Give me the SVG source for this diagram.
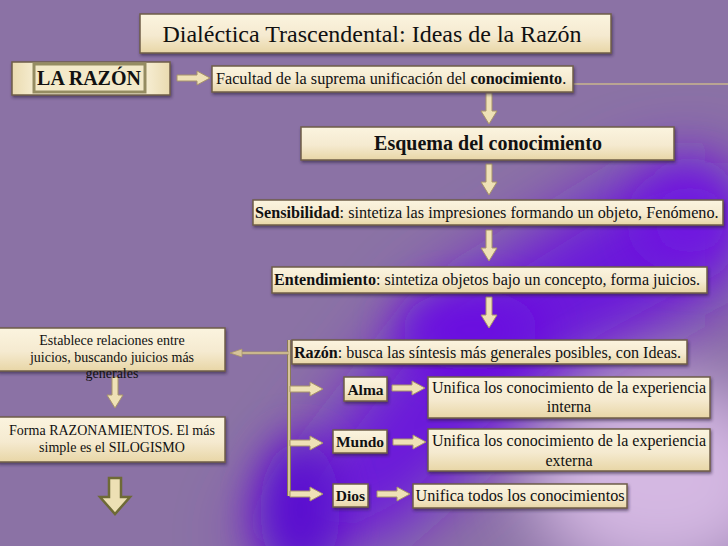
<svg xmlns="http://www.w3.org/2000/svg" width="728" height="546" viewBox="0 0 728 546">
<defs>
<linearGradient id="box" x1="0" y1="0" x2="0" y2="1">
<stop offset="0" stop-color="#fbf4df"/>
<stop offset="0.55" stop-color="#f5ead0"/>
<stop offset="1" stop-color="#e8d6a6"/>
</linearGradient>
<linearGradient id="boxh" x1="0" y1="0" x2="1" y2="0">
<stop offset="0" stop-color="#eadbb0"/>
<stop offset="0.2" stop-color="#faf3dd"/>
<stop offset="0.8" stop-color="#faf3dd"/>
<stop offset="1" stop-color="#eadbb0"/>
</linearGradient>
<filter id="sh" x="-10%" y="-30%" width="120%" height="170%">
<feDropShadow dx="1" dy="2" stdDeviation="1.5" flood-color="#2e1f3a" flood-opacity="0.6"/>
</filter>
<filter id="blur40" x="-50%" y="-50%" width="200%" height="200%"><feGaussianBlur stdDeviation="35"/></filter>
<filter id="blur25" x="-50%" y="-50%" width="200%" height="200%"><feGaussianBlur stdDeviation="22"/></filter>
<path id="down" d="M-3,0 H3 V18 H8 L0,31 L-8,18 H-3 Z"/>
<path id="right" d="M0,-3 V3 H20 V7 L33,0 L20,-7 V-3 Z"/>
<style>
.bx{fill:url(#box);stroke:#6f5e48;stroke-width:1.5;filter:url(#sh)}
.ar{fill:#efe1b6;stroke:#a8946a;stroke-width:1}
.b{font-weight:bold}
.ln{stroke:#c9b68e;fill:none}
</style>
</defs>

<rect width="728" height="546" fill="#8b72a5"/>
<g>
<path d="M240,546 L380,546 L580,370 L728,290 L728,160 L640,170 L430,300 Z" fill="#6a14dc" filter="url(#blur40)"/>
<ellipse cx="660" cy="480" rx="130" ry="100" fill="#d4b8e2" filter="url(#blur40)"/>
<ellipse cx="300" cy="510" rx="40" ry="70" fill="#5a10d0" filter="url(#blur25)"/>
<ellipse cx="470" cy="330" rx="70" ry="40" fill="#6a10e0" filter="url(#blur25)"/>
<ellipse cx="690" cy="220" rx="50" ry="50" fill="#7018e0" filter="url(#blur25)"/>
</g>

<g id="connectors">
<line class="ln" x1="573" y1="84" x2="728" y2="84" stroke-width="1.5"/>
<use href="#right" class="ar" x="177" y="78"/>
<use href="#down" class="ar" x="489" y="93"/>
<use href="#down" class="ar" x="489" y="164"/>
<use href="#down" class="ar" x="489" y="230"/>
<use href="#down" class="ar" x="489" y="297"/>
<line x1="289" y1="340" x2="289" y2="496" stroke="#8a7a55" stroke-width="4"/>
<line x1="289" y1="340" x2="289" y2="496" stroke="#d6c39a" stroke-width="2"/>
<line x1="240" y1="353" x2="289" y2="353" stroke="#a8946a" stroke-width="3"/>
<line x1="240" y1="353" x2="289" y2="353" stroke="#d6c39a" stroke-width="1.5"/>
<path d="M230,353 L242,349 L242,357 Z" fill="#d6c39a" stroke="#a8946a" stroke-width="0.8"/>
<use href="#right" class="ar" x="290" y="389"/>
<use href="#right" class="ar" x="290" y="443"/>
<use href="#right" class="ar" x="290" y="494"/>
<use href="#right" class="ar" x="392" y="388"/>
<use href="#right" class="ar" x="393" y="442"/>
<use href="#right" class="ar" x="377" y="494"/>
<use href="#down" class="ar" x="115" y="377"/>
<path d="M109,478 H121 V497 H130 L115,514 L100,497 H109 Z" fill="#ede0b4" stroke="#6e6a36" stroke-width="2.5"/>
</g>

<g font-family="'Liberation Serif', 'Times New Roman', serif" fill="#111">
<g id="title">
<rect class="bx" x="140" y="14" width="471" height="39"/>
<text x="372" y="42" font-size="24" text-anchor="middle">Dialéctica Trascendental: Ideas de la Razón</text>
</g>

<g id="la-razon">
<rect x="12" y="62" width="158" height="33" fill="url(#boxh)" stroke="#6f5e48" stroke-width="1.5" filter="url(#sh)"/>
<rect x="34" y="64" width="111" height="28" fill="#f3e9c9" stroke="#958c62" stroke-width="3"/>
<text class="b" x="89" y="85" font-size="20" text-anchor="middle">LA RAZÓN</text>
</g>

<g id="facultad">
<rect class="bx" x="212" y="66" width="361" height="26"/>
<text x="216" y="84" font-size="16.2">Facultad de la suprema unificación del <tspan class="b">conocimiento</tspan>.</text>
</g>

<g id="esquema">
<rect class="bx" x="301" y="127" width="373" height="33"/>
<text class="b" x="488" y="150" font-size="20" text-anchor="middle">Esquema del conocimiento</text>
</g>

<g id="sensibilidad">
<rect class="bx" x="253" y="200" width="470" height="25"/>
<text x="255" y="218" font-size="16.2"><tspan class="b">Sensibilidad</tspan>: sintetiza las impresiones formando un objeto, Fenómeno.</text>
</g>

<g id="entendimiento">
<rect class="bx" x="272" y="267" width="435" height="26"/>
<text x="274" y="285" font-size="16.1"><tspan class="b">Entendimiento</tspan>: sintetiza objetos bajo un concepto, forma juicios.</text>
</g>

<g id="razon">
<rect class="bx" x="292" y="340" width="395" height="24"/>
<text x="294" y="358" font-size="16.1"><tspan class="b">Razón</tspan>: busca las síntesis más generales posibles, con Ideas.</text>
</g>

<g id="alma">
<rect class="bx" x="344" y="377" width="43" height="24"/>
<text class="b" x="365.5" y="395" font-size="15.5" text-anchor="middle">Alma</text>
</g>
<g id="alma-desc">
<rect class="bx" x="428" y="377" width="282" height="41"/>
<text x="569" y="393" font-size="16" text-anchor="middle">Unifica los conocimiento de la experiencia</text>
<text x="569" y="412" font-size="16" text-anchor="middle">interna</text>
</g>

<g id="mundo">
<rect class="bx" x="333" y="430" width="54" height="23"/>
<text class="b" x="360" y="447" font-size="15.5" text-anchor="middle">Mundo</text>
</g>
<g id="mundo-desc">
<rect class="bx" x="428" y="429" width="282" height="42"/>
<text x="569" y="446" font-size="16" text-anchor="middle">Unifica los conocimiento de la experiencia</text>
<text x="569" y="466" font-size="16" text-anchor="middle">externa</text>
</g>

<g id="dios">
<rect class="bx" x="333" y="484" width="35" height="23"/>
<text class="b" x="350.5" y="501" font-size="15.5" text-anchor="middle">Dios</text>
</g>
<g id="dios-desc">
<rect class="bx" x="413" y="484" width="214" height="24"/>
<text x="520" y="501" font-size="16.2" text-anchor="middle">Unifica todos los conocimientos</text>
</g>

<g id="establece">
<rect class="bx" x="-2" y="328" width="227" height="43"/>
<text x="112" y="345" font-size="14" text-anchor="middle">Establece relaciones entre</text>
<text x="112" y="362" font-size="14" text-anchor="middle">juicios, buscando juicios más</text>
<text x="112" y="378" font-size="14" text-anchor="middle">generales</text>
</g>

<g id="forma">
<rect class="bx" x="-2" y="417" width="227" height="45"/>
<text x="112" y="435" font-size="14" text-anchor="middle">Forma RAZONAMIENTOS. El más</text>
<text x="112" y="452" font-size="14" text-anchor="middle">simple es el SILOGISMO</text>
</g>
</g>
</svg>
